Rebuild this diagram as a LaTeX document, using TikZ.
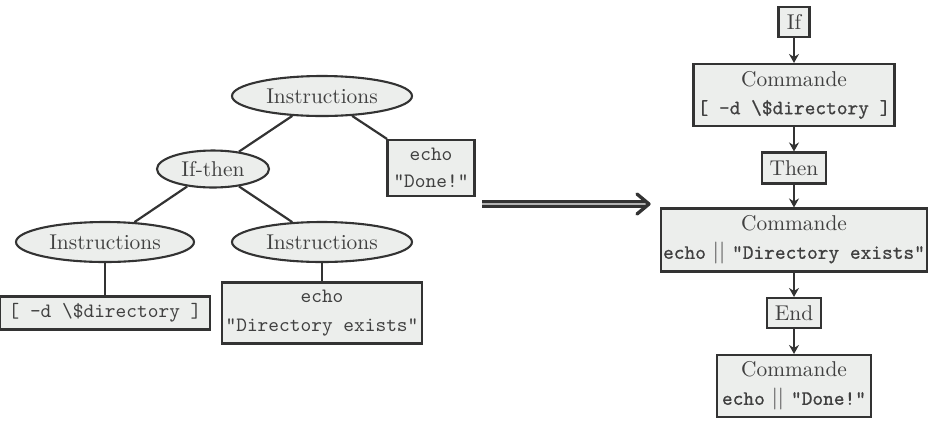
\documentclass[tikz,border=0pt]{standalone}
\usepackage{fontspec}
\usetikzlibrary{shapes.geometric,arrows.meta}
\definecolor{ln}{HTML}{333333}
\definecolor{fl}{HTML}{ECEEEC}
\definecolor{tx}{HTML}{404040}
\newfontfamily\monoreg{Latin Modern Mono}
\newfontfamily\monobold[FakeBold=0.7]{Latin Modern Mono}
\newcommand{\mytt}{\fontsize{10.2}{13}\monoreg}
\newcommand{\myttb}{\fontsize{10.2}{13}\monobold}
\begin{document}
\begin{tikzpicture}[x=0.5pt,y=-0.5pt,
  base/.style={draw=ln,fill=fl,line width=1.05pt,text=tx,inner sep=0pt,align=center,font=\fontsize{10.7}{13}\selectfont},
  ell/.style={base,ellipse},
  bx/.style={base,rectangle},
  edge/.style={draw=ln,line width=1.1pt},
  arr/.style={draw=ln,line width=1.05pt,-{Stealth[length=4.5pt,width=5pt,inset=1.5pt]}}]
\useasboundingbox (0,0) rectangle (933,436);
% left tree
\node[ell,minimum width=90pt,minimum height=20pt] (i0) at (322,96) {Instructions};
\node[ell,minimum width=56pt,minimum height=18.5pt] (ift) at (213,169) {If-then};
\node[bx,minimum width=43.5pt,minimum height=28pt] (done) at (431,168) {\mytt echo\\[0.5pt]\mytt "Done!"};
\node[ell,minimum width=89pt,minimum height=20pt] (i1) at (105,242) {Instructions};
\node[ell,minimum width=90pt,minimum height=20pt] (i2) at (322,242) {Instructions};
\node[bx,minimum width=105pt,minimum height=16.5pt] (dir) at (105,313) {\mytt [ -d \textbackslash\$directory ]};
\node[bx,minimum width=100pt,minimum height=30.5pt] (dex) at (322,313) {\mytt echo\\[1.5pt]\mytt "Directory exists"};
\draw[edge] (i0) -- (ift);
\draw[edge] (i0) -- (done);
\draw[edge] (ift) -- (i1);
\draw[edge] (ift) -- (i2);
\draw[edge] (i1) -- (dir);
\draw[edge] (i2) -- (dex);
% big arrow
\coordinate (a0) at (482,204);
\coordinate (a1) at (647,204);
\coordinate (a2) at (649,204);
\draw[draw=ln,line width=1.3pt,double=gray!60,double distance=1.2pt] (a0) -- (a1);
\draw[draw=ln,line width=1.7pt,line join=round,line cap=round] (a2) ++(-12,-10) -- (a2) -- ++(-12,10);
% right flow
\node[bx,minimum width=15.5pt,minimum height=15pt] (if) at (794,22) {If};
\node[bx,minimum width=100.5pt,minimum height=31pt] (c1) at (794,95) {Commande\\[1pt]{\myttb [ -d \textbackslash\$directory ]}};
\node[bx,minimum width=32pt,minimum height=15.5pt] (then) at (794,168) {Then};
\node[bx,minimum width=133pt,minimum height=31.5pt] (c2) at (794,240) {Commande\\[1pt]{\myttb echo}\hspace{3.5pt}$||$\hspace{3.5pt}{\myttb "Directory exists"}};
\node[bx,minimum width=27pt,minimum height=15pt] (end) at (794,313) {End};
\node[bx,minimum width=77pt,minimum height=31pt] (c3) at (794,386) {Commande\\[1pt]{\myttb echo}\hspace{3.5pt}$||$\hspace{3.5pt}{\myttb "Done!"}};
\draw[arr] (if) -- (c1);
\draw[arr] (c1) -- (then);
\draw[arr] (then) -- (c2);
\draw[arr] (c2) -- (end);
\draw[arr] (end) -- (c3);
\end{tikzpicture}
\end{document}
